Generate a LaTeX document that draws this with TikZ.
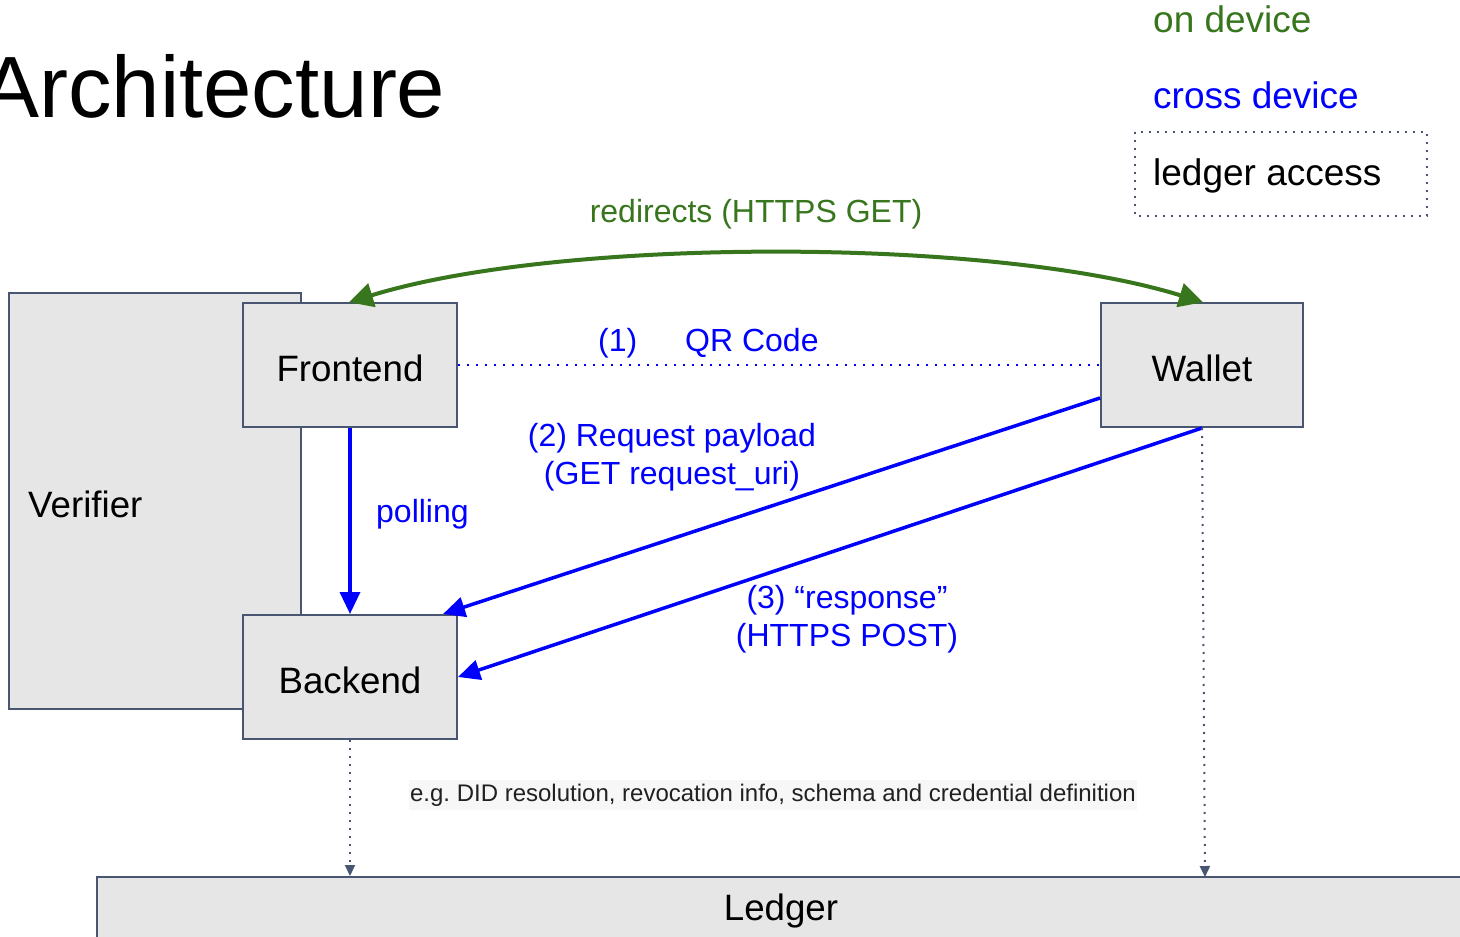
\documentclass[tikz,border=0pt]{standalone}
\usepackage{fontspec}
\setmainfont{Liberation Sans}
\frenchspacing
\usetikzlibrary{arrows.meta,calc}
\definecolor{slate}{RGB}{72,86,114}
\definecolor{boxgray}{RGB}{230,230,230}
\definecolor{ongreen}{RGB}{56,118,29}
\definecolor{xblue}{RGB}{0,0,255}
\definecolor{notebg}{RGB}{247,247,247}
\tikzset{
  comp/.style={draw=slate, line width=2pt, fill=boxgray, inner sep=0pt, minimum width=214pt, minimum height=124pt},
  boxtext/.style={inner sep=0pt, font=\fontsize{36.7}{44}\selectfont},
  lbl/.style={inner sep=0pt, font=\fontsize{32}{38}\selectfont, text=xblue, align=center},
  legend/.style={inner sep=0pt, anchor=west, font=\fontsize{37}{44}\selectfont},
  onarrow/.style={draw=ongreen, line width=4pt, {Triangle[length=24pt,width=24pt]}-{Triangle[length=24pt,width=24pt]}, shorten <=-1pt, shorten >=-1pt},
  crossarrow/.style={draw=xblue, line width=3.5pt, -{Triangle[length=22pt,width=20pt]}},
  ledgerline/.style={draw=slate, line width=2pt, dash pattern=on 2pt off 6pt, -{Triangle[length=11pt,width=10pt]}},
}
\begin{document}
\begin{tikzpicture}[x=1pt,y=-1pt]
\useasboundingbox (0,0) rectangle (1460,937);
\fill[white] (0,0) rectangle (1460,937);

% title
\node[inner sep=0pt, anchor=base west, font=\fontsize{87}{100}\selectfont] (title) at (-19,117) {Architecture};

% legend
\node[legend, text=ongreen] (legon) at (1153,19) {on device};
\node[legend, text=xblue] (legcross) at (1153,95) {cross device};
\draw[draw=slate, line width=2pt, dash pattern=on 2pt off 6pt] (1135,132) rectangle (1427,216);
\node[legend] (legledger) at (1153,176) {ledger access};

% components
\node[draw=slate, line width=2pt, fill=boxgray, minimum width=292pt, minimum height=416pt, inner sep=0pt] (ver) at (155,501) {};
\node[boxtext, anchor=west] (vertext) at (28,504) {Verifier};
\node[comp] (fe) at (350,365) {};
\node[boxtext] (fetext) at (350,368) {Frontend};
\node[comp] (be) at (350,677) {};
\node[boxtext] (betext) at (350,680) {Backend};
\node[comp, minimum width=202pt] (wa) at (1202,365) {};
\node[boxtext] (watext) at (1202,368) {Wallet};
\node[draw=slate, line width=2pt, fill=boxgray, minimum width=1400pt, minimum height=80pt, inner sep=0pt] (led) at (797,917) {};
\node[boxtext] (ledtext) at (781,911) {Ledger};

% on-device redirect
\draw[onarrow] (fe.north) .. controls (560,237) and (992,237) .. (wa.north);
\node[lbl, text=ongreen] (redir) at (756,214) {redirects (HTTPS GET)};

% QR code
\draw[draw=xblue, line width=2pt, dash pattern=on 2pt off 7pt] (fe.east) -- (wa.west);
\node[lbl, anchor=west] (qr1) at (598,343) {(1)};
\node[lbl, anchor=west] (qr2) at (685,343) {QR Code};

% polling
\draw[crossarrow] (fe.south) -- (be.north);
\node[lbl, anchor=west] (poll) at (376,514) {polling};

% request payload
\draw[crossarrow] ($(wa.west)+(0,33)$) -- ($(be.north east)+(-15,0)$);
\node[lbl] (req) at (672,457) {(2) Request payload\\(GET request\_uri)};

% response
\draw[crossarrow] (wa.south) -- (be.east);
\node[lbl] (resp) at (847,619) {(3) “response”\\(HTTPS POST)};

% ledger access
\draw[ledgerline] (be.south) -- (be.south |- led.north);
\coordinate (walled) at (1205,877);
\draw[ledgerline] (wa.south) -- (walled);
\node[fill=notebg, inner xsep=1pt, inner ysep=4pt, font=\fontsize{24}{28}\selectfont, text={rgb,255:red,33;green,33;blue,33}] (note) at (773,795) {e.g. DID resolution, revocation info, schema and credential definition};
\end{tikzpicture}
\end{document}
